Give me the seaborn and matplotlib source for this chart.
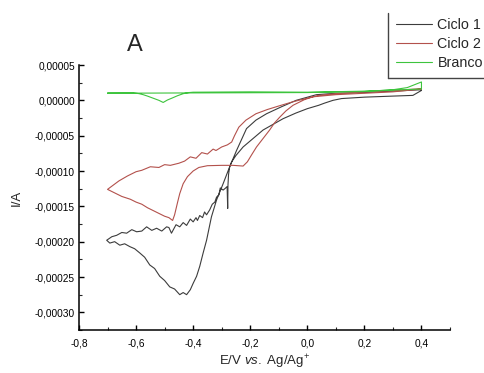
import numpy as np
import pandas as pd
import matplotlib
matplotlib.use("Agg")
import matplotlib.pyplot as plt
import seaborn as sns
from matplotlib.ticker import FuncFormatter, MultipleLocator
from matplotlib.lines import Line2D

# ---------------- data ----------------
ciclo1_E = [0.40, 0.37, 0.30, 0.20, 0.12, 0.09, 0.06, 0.04, 0.00, -0.04, -0.085, -0.12, -0.155, -0.19,
            -0.225, -0.25, -0.265, -0.272, -0.276, -0.278, -0.279, -0.281, -0.286, -0.295,
            -0.305, -0.31, -0.318, -0.324, -0.333, -0.342, -0.353, -0.36, -0.367, -0.377,
            -0.385, -0.39, -0.40, -0.41, -0.423, -0.435, -0.447, -0.46, -0.476, -0.485,
            -0.493, -0.51, -0.528, -0.545, -0.563, -0.58, -0.598, -0.615, -0.633, -0.65,
            -0.668, -0.685, -0.703,
            -0.692, -0.675, -0.657, -0.64, -0.622, -0.605, -0.587, -0.57, -0.552, -0.535,
            -0.517, -0.50, -0.482, -0.465, -0.447, -0.435, -0.423, -0.41, -0.40, -0.388,
            -0.377, -0.365, -0.353, -0.336, -0.318, -0.295, -0.272, -0.248, -0.213, -0.18,
            -0.143, -0.09, -0.039, 0.032, 0.10, 0.20, 0.30, 0.40]
ciclo1_I = [1.4e-5, 0.7e-5, 0.6e-5, 0.45e-5, 0.25e-5, 0.0, -0.4e-5, -0.7e-5, -1.18e-5, -1.8e-5, -2.6e-5, -3.4e-5,
            -4.2e-5, -5.4e-5, -6.6e-5, -7.8e-5, -8.7e-5, -9.4e-5, -1.05e-4, -1.20e-4, -1.53e-4,
            -1.22e-4, -1.24e-4, -1.27e-4, -1.24e-4, -1.34e-4, -1.37e-4, -1.44e-4, -1.47e-4,
            -1.55e-4, -1.62e-4, -1.58e-4, -1.66e-4, -1.63e-4, -1.70e-4, -1.66e-4, -1.72e-4,
            -1.68e-4, -1.77e-4, -1.73e-4, -1.79e-4, -1.76e-4, -1.88e-4, -1.80e-4, -1.79e-4,
            -1.85e-4, -1.81e-4, -1.84e-4, -1.79e-4, -1.85e-4, -1.86e-4, -1.83e-4, -1.88e-4,
            -1.87e-4, -1.91e-4, -1.93e-4, -1.98e-4,
            -2.02e-4, -2.00e-4, -2.05e-4, -2.03e-4, -2.07e-4, -2.10e-4, -2.16e-4, -2.22e-4,
            -2.33e-4, -2.38e-4, -2.49e-4, -2.55e-4, -2.64e-4, -2.67e-4, -2.75e-4, -2.72e-4,
            -2.75e-4, -2.68e-4, -2.59e-4, -2.49e-4, -2.35e-4, -2.16e-4, -1.98e-4, -1.65e-4,
            -1.41e-4, -1.18e-4, -9.4e-5, -7.1e-5, -4.0e-5, -2.8e-5, -1.9e-5, -0.9e-5, 0.0,
            0.8e-5, 1.0e-5, 1.1e-5, 1.3e-5, 1.5e-5]

ciclo2_E = [0.40, 0.30, 0.20, 0.10, 0.04, 0.00, -0.05, -0.10, -0.14, -0.18, -0.215, -0.24,
            -0.255, -0.265, -0.28, -0.30, -0.32, -0.33, -0.35, -0.37, -0.39, -0.41, -0.43,
            -0.45, -0.48, -0.50, -0.52, -0.55, -0.58, -0.60, -0.63, -0.66, -0.70,
            -0.68, -0.65, -0.62, -0.60, -0.58, -0.56, -0.54, -0.52, -0.50, -0.485, -0.472,
            -0.465, -0.455, -0.447, -0.435, -0.42, -0.40, -0.38, -0.35, -0.30, -0.26, -0.225,
            -0.21, -0.195, -0.178, -0.155, -0.132, -0.115, -0.097, -0.075, -0.05, -0.01,
            0.02, 0.10, 0.20, 0.30, 0.40]
ciclo2_I = [1.65e-5, 1.4e-5, 1.2e-5, 0.95e-5, 0.7e-5, 0.3e-5, -0.2e-5, -0.8e-5, -1.3e-5,
            -1.9e-5, -2.8e-5, -3.8e-5, -5.0e-5, -5.9e-5, -6.3e-5, -6.6e-5, -7.1e-5, -6.9e-5,
            -7.6e-5, -7.4e-5, -8.2e-5, -8.0e-5, -8.6e-5, -8.9e-5, -9.2e-5, -9.1e-5, -9.5e-5,
            -9.4e-5, -9.9e-5, -1.01e-4, -1.07e-4, -1.14e-4, -1.26e-4,
            -1.30e-4, -1.36e-4, -1.40e-4, -1.44e-4, -1.47e-4, -1.52e-4, -1.56e-4, -1.60e-4,
            -1.64e-4, -1.66e-4, -1.70e-4, -1.62e-4, -1.45e-4, -1.32e-4, -1.18e-4, -1.08e-4,
            -1.00e-4, -9.5e-5, -9.25e-5, -9.2e-5, -9.2e-5, -9.3e-5, -8.7e-5, -7.7e-5, -6.6e-5,
            -5.4e-5, -4.2e-5, -3.2e-5, -2.4e-5, -1.5e-5, -0.7e-5, 0.1e-5, 0.5e-5, 0.8e-5,
            1.0e-5, 1.2e-5, 1.6e-5]

branco_E = [-0.70, -0.40, 0.00, 0.20, 0.30, 0.35, 0.40,
            0.40, 0.20, 0.00, -0.20, -0.40, -0.415, -0.435, -0.455, -0.475, -0.49, -0.505,
            -0.52, -0.54, -0.56, -0.575, -0.59, -0.61, -0.70]
branco_I = [1.0e-5, 1.05e-5, 1.1e-5, 1.25e-5, 1.5e-5, 1.8e-5, 2.6e-5,
            1.6e-5, 1.3e-5, 1.15e-5, 1.2e-5, 1.15e-5, 1.1e-5, 0.94e-5, 0.65e-5, 0.3e-5,
            0.05e-5, -0.3e-5, 0.0e-5, 0.3e-5, 0.6e-5, 0.8e-5, 0.95e-5, 1.05e-5, 1.05e-5]

labels = ["Ciclo 1", "Ciclo 2", "Branco"]
colors = ["#3c3c3c", "#b3514c", "#3dc43d"]

frames = []
for lab, E, I in zip(labels, [ciclo1_E, ciclo2_E, branco_E], [ciclo1_I, ciclo2_I, branco_I]):
    frames.append(pd.DataFrame({"E": E, "I": I, "serie": lab, "ordem": np.arange(len(E))}))
df = pd.concat(frames, ignore_index=True)

# ---------------- plot ----------------
sns.set_style("ticks")
plt.rcParams["font.family"] = ["Liberation Sans", "DejaVu Sans"]
plt.rcParams["mathtext.fontset"] = "custom"
plt.rcParams["mathtext.it"] = "Liberation Sans:italic"
plt.rcParams["mathtext.rm"] = "Liberation Sans"

fig = plt.figure(figsize=(4.84, 3.73), dpi=100)
ax = fig.add_axes([79 / 484, 1 - 330 / 373, (450 - 79) / 484, (330 - 65) / 373])

for lab, col in zip(labels, colors):
    sub = df[df["serie"] == lab]
    sns.lineplot(data=sub, x="E", y="I", sort=False, estimator=None, color=col,
                 lw=0.8, ax=ax, legend=False)

ax.set_xlim(-0.8, 0.5)
ax.set_ylim(-0.000325, 0.00005)
ax.xaxis.set_major_locator(MultipleLocator(0.2))
ax.xaxis.set_minor_locator(MultipleLocator(0.1))
ax.yaxis.set_major_locator(MultipleLocator(0.00005))
ax.yaxis.set_minor_locator(MultipleLocator(0.000025))


def fx(v, p):
    v = round(v, 6)
    if abs(v) < 1e-9:
        v = 0.0
    return f"{v:.1f}".replace(".", ",")


def fy(v, p):
    v = round(v, 9)
    if abs(v) < 1e-12:
        v = 0.0
    return f"{v:.5f}".replace(".", ",")


ax.xaxis.set_major_formatter(FuncFormatter(fx))
ax.yaxis.set_major_formatter(FuncFormatter(fy))
ax.tick_params(axis="both", which="major", direction="in", length=3.5, width=1,
               labelsize=7.3, colors="black")
ax.tick_params(axis="both", which="minor", direction="in", length=2, width=0.8)
ax.tick_params(axis="x", pad=6)
ax.tick_params(axis="y", pad=3)
for s in ["top", "right"]:
    ax.spines[s].set_visible(False)
for s in ["left", "bottom"]:
    ax.spines[s].set_linewidth(1.1)
    ax.spines[s].set_color("black")

ax.set_xlabel(r"E/V $\mathit{vs.}$ Ag/Ag$^{+}$", fontsize=9.5)
ax.set_ylabel("I/A", fontsize=9.5)
ax.xaxis.set_label_coords(0.5, -0.085)
ax.yaxis.set_label_coords(-0.152, 0.5)

fig.text(135 / 484, 1 - 45 / 373, "A", fontsize=17, ha="center", va="center")

handles = [Line2D([], [], color=c, lw=0.8) for c in colors]
fig.legend(handles, labels, loc="upper left", bbox_to_anchor=(396 / 484, 1 - 18 / 373),
           frameon=False, fontsize=10.3, handlelength=2.5, handletextpad=0.4,
           labelspacing=0.35, borderaxespad=0, borderpad=0)
fig.add_artist(Line2D([388 / 484, 388 / 484], [1 - 13 / 373, 1 - 78 / 373],
                      transform=fig.transFigure, color="#444444", lw=1))
fig.add_artist(Line2D([388 / 484, 1.0], [1 - 78 / 373, 1 - 78 / 373],
                      transform=fig.transFigure, color="#444444", lw=1))

fig.savefig("out.png", dpi=100)
